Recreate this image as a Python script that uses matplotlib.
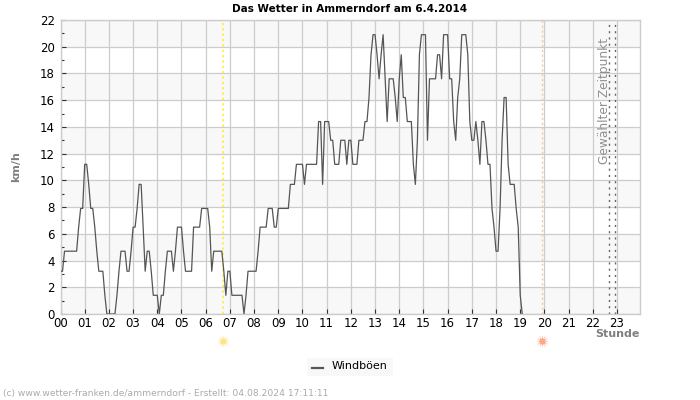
# -*- coding: utf-8 -*-
import numpy as np
import matplotlib
matplotlib.use('Agg')
import matplotlib.pyplot as plt
from matplotlib.patches import Rectangle

TITLE = 'Das Wetter in Ammerndorf am 6.4.2014'
FOOTER = '(c) www.wetter-franken.de/ammerndorf - Erstellt: 04.08.2024 17:11:11'
SERIES_NAME = 'Windböen'

HOUR_LABELS = ['%02d' % h for h in range(24)]
SAMPLE_MINUTES = 5

# gusts in km/h, one row per hour, one value per 5 minutes
GUSTS = [
    3.2, 3.2, 4.7, 4.7, 4.7, 4.7, 4.7, 4.7, 4.7, 6.5, 7.9, 7.9,
    11.2, 11.2, 9.7, 7.9, 7.9, 6.5, 4.7, 3.2, 3.2, 3.2, 1.4, 0,
    0, 0, 0, 0, 1.4, 3.2, 4.7, 4.7, 4.7, 3.2, 3.2, 4.7,
    6.5, 6.5, 7.9, 9.7, 9.7, 6.5, 3.2, 4.7, 4.7, 3.2, 1.4, 1.4,
    1.4, 0, 1.4, 1.4, 3.2, 4.7, 4.7, 4.7, 3.2, 4.7, 6.5, 6.5,
    6.5, 4.7, 3.2, 3.2, 3.2, 3.2, 6.5, 6.5, 6.5, 6.5, 7.9, 7.9,
    7.9, 7.9, 6.5, 3.2, 4.7, 4.7, 4.7, 4.7, 4.7, 3.2, 1.4, 3.2,
    3.2, 1.4, 1.4, 1.4, 1.4, 1.4, 1.4, 0, 1.4, 3.2, 3.2, 3.2,
    3.2, 3.2, 4.7, 6.5, 6.5, 6.5, 6.5, 7.9, 7.9, 7.9, 6.5, 6.5,
    7.9, 7.9, 7.9, 7.9, 7.9, 7.9, 9.7, 9.7, 9.7, 11.2, 11.2, 11.2,
    11.2, 9.7, 11.2, 11.2, 11.2, 11.2, 11.2, 11.2, 14.4, 14.4, 9.7, 14.4,
    14.4, 14.4, 13.0, 13.0, 11.2, 11.2, 11.2, 13.0, 13.0, 13.0, 11.2, 13.0,
    13.0, 11.2, 11.2, 11.2, 13.0, 13.0, 13.0, 14.4, 14.4, 16.2, 19.4, 20.9,
    20.9, 19.4, 17.6, 19.4, 20.9, 17.6, 14.4, 17.6, 17.6, 17.6, 16.2, 14.4,
    17.6, 19.4, 16.2, 16.2, 14.4, 14.4, 14.4, 11.2, 9.7, 13.0, 19.4, 20.9,
    20.9, 20.9, 13.0, 17.6, 17.6, 17.6, 17.6, 19.4, 19.4, 17.6, 20.9, 20.9,
    20.9, 17.6, 17.6, 14.4, 13.0, 16.2, 17.6, 20.9, 20.9, 20.9, 19.4, 14.4,
    13.0, 13.0, 14.4, 13.0, 11.2, 14.4, 14.4, 13.0, 11.2, 11.2, 7.9, 6.5,
    4.7, 4.7, 7.9, 13.0, 16.2, 16.2, 11.2, 9.7, 9.7, 9.7, 7.9, 6.5,
    1.4, 0,
]

SUNRISE = 6.72
SUNSET = 19.92
SELECTED = [22.65, 22.9]

GRID = '#cccccc'
BAND = '#f8f8f8'
LABEL_GREY = '#808080'

plt.rcParams['font.family'] = 'DejaVu Sans'

fig = plt.figure(figsize=(7, 4), dpi=100)
ax = fig.add_axes([60.5 / 700, 1 - 314 / 400, 579.5 / 700, 294 / 400])
ax.set_xlim(0, 23.95)
ax.set_ylim(0, 22)

# alternating bands
for low in range(0, 22, 4):
    ax.axhspan(low, low + 2, color=BAND, lw=0, zorder=0)

ax.set_xticks(range(24))
ax.set_xticklabels(HOUR_LABELS, fontsize=8.5)
ax.set_yticks(range(0, 23, 2))
ax.set_yticks(range(1, 22, 2), minor=True)
ax.tick_params(axis='y', which='major', direction='in', length=3.6, width=0.8, color='#333333',
               labelsize=8.5, pad=4)
ax.tick_params(axis='y', which='minor', direction='in', length=2, width=0.8, color='#333333')
ax.tick_params(axis='x', which='major', direction='in', length=3.6, width=0.8, color='#333333',
               labelsize=8.5, pad=2.5)
ax.grid(True, which='major', color=GRID, lw=0.9)
ax.set_axisbelow(True)
for spine in ax.spines.values():
    spine.set_color(GRID)
    spine.set_linewidth(1)

ax.axvline(SUNRISE, color='#ffe930', lw=1.1, ls=(0, (1.5, 2)), zorder=2)
ax.axvline(SUNSET, color='#f5c99b', lw=1, ls=(0, (1.5, 2)), zorder=2)
for t in SELECTED:
    ax.axvline(t, color='#666666', lw=1, ls=(0, (1.5, 3)), zorder=2)

hours = np.arange(len(GUSTS)) * SAMPLE_MINUTES / 60
line, = ax.plot(hours, GUSTS, color='#555555', lw=0.9, zorder=3)

ax.text(22.76, 20.65, 'Gewählter Zeitpunkt', rotation=90, ha='right', va='top',
        color='#909090', fontsize=8.8, zorder=4)

# sun symbols below the axis
trans = ax.get_xaxis_transform()
for t, col in [(SUNRISE, '#ffe48a'), (SUNSET, '#ffa78a')]:
    ax.plot([t], [-0.092], marker=(12, 2, 0), ms=8, mew=0.6, color=col, alpha=0.5,
            transform=trans, clip_on=False, zorder=5)
    ax.plot([t], [-0.092], marker='o', ms=4.5, mew=0, color=col,
            transform=trans, clip_on=False, zorder=6)

fig.text(350 / 700, 1 - 9 / 400, TITLE, ha='center', va='center', fontsize=7.5, fontweight='bold')
fig.text(16 / 700, 1 - 167 / 400, 'km/h', rotation=90, ha='center', va='center',
         fontsize=8, fontweight='bold', color=LABEL_GREY)
fig.text(640 / 700, 1 - 334 / 400, 'Stunde', ha='right', va='center',
         fontsize=8, fontweight='bold', color=LABEL_GREY)

# legend box
fig.add_artist(Rectangle((307 / 700, 1 - 376 / 400), 86 / 700, 18 / 400, color=BAND, lw=0,
                         transform=fig.transFigure))
fig.add_artist(plt.Line2D([312 / 700, 323 / 700], [1 - 367.5 / 400] * 2, color='#555555', lw=1.6,
                          transform=fig.transFigure))
fig.text(332 / 700, 1 - 366 / 400, SERIES_NAME, ha='left', va='center', fontsize=8)

fig.text(3 / 700, 1 - 393.5 / 400, FOOTER, ha='left', va='center', fontsize=6.6, color='#aaaaaa')

fig.savefig('out.png', dpi=100)
